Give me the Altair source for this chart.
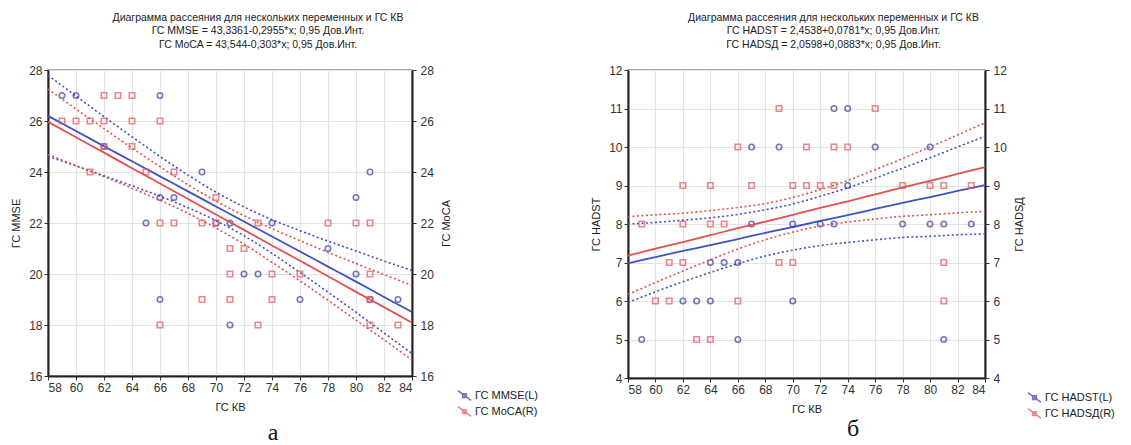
import altair as alt
import pandas as pd

# ---------------- panel а ----------------
mmse_x = [59, 60, 66, 62, 69, 81, 66, 67, 80, 65, 70, 71, 74, 78, 72, 73, 80, 66, 76, 81, 83, 71]
mmse_y = [27, 27, 27, 25, 24, 24, 23, 23, 23, 22, 22, 22, 22, 21, 20, 20, 20, 19, 19, 19, 19, 18]
moca_x = [62, 63, 64, 59, 60, 61, 62, 64, 66, 62, 64, 61, 65, 67, 70, 66, 67, 69, 70, 73, 78, 80, 81,
          71, 72, 71, 74, 76, 81, 69, 71, 74, 81, 66, 73, 81, 83]
moca_y = [27, 27, 27, 26, 26, 26, 26, 26, 26, 25, 25, 24, 24, 24, 23, 22, 22, 22, 22, 22, 22, 22, 22,
          21, 21, 20, 20, 20, 20, 19, 19, 19, 19, 18, 18, 18, 18]

band_x = [58, 60, 62, 64, 66, 68, 70, 72, 74, 76, 78, 80, 82, 84]
mmse_fit = [26.20, 25.61, 25.01, 24.42, 23.83, 23.24, 22.65, 22.06, 21.47, 20.88, 20.29, 19.70, 19.10, 18.51]
mmse_hi = [27.79, 26.98, 26.17, 25.38, 24.61, 23.88, 23.21, 22.63, 22.13, 21.70, 21.29, 20.90, 20.51, 20.14]
mmse_lo = [24.61, 24.24, 23.85, 23.46, 23.05, 22.60, 22.09, 21.50, 20.81, 20.06, 19.29, 18.50, 17.69, 16.88]
moca_fit = [25.97, 25.36, 24.76, 24.15, 23.55, 22.94, 22.33, 21.73, 21.12, 20.52, 19.91, 19.30, 18.70, 18.09]
moca_hi = [27.25, 26.47, 25.70, 24.94, 24.21, 23.50, 22.86, 22.29, 21.78, 21.31, 20.85, 20.41, 19.98, 19.55]
moca_lo = [24.69, 24.25, 23.82, 23.36, 22.89, 22.38, 21.80, 21.17, 20.46, 19.73, 18.97, 18.19, 17.42, 16.63]

# ---------------- panel б ----------------
hadst_x = [73, 74, 67, 69, 76, 80, 74, 67, 70, 72, 73, 78, 80, 81, 83, 64, 65, 66, 62, 63, 64, 70, 59, 66, 81]
hadst_y = [11, 11, 10, 10, 10, 10, 9, 8, 8, 8, 8, 8, 8, 8, 8, 7, 7, 7, 6, 6, 6, 6, 5, 5, 5]
hadsd_x = [69, 76, 66, 71, 73, 74, 62, 64, 67, 70, 71, 72, 73, 78, 80, 81, 83, 59, 62, 64, 65,
           61, 62, 69, 70, 81, 60, 61, 66, 81, 63, 64]
hadsd_y = [11, 11, 10, 10, 10, 10, 9, 9, 9, 9, 9, 9, 9, 9, 9, 9, 9, 8, 8, 8, 8,
           7, 7, 7, 7, 7, 6, 6, 6, 6, 5, 5]
hadst_fit = [6.98, 7.14, 7.30, 7.45, 7.61, 7.77, 7.92, 8.08, 8.23, 8.39, 8.55, 8.70, 8.86, 9.01]
hadst_hi = [8.00, 8.04, 8.10, 8.16, 8.25, 8.37, 8.52, 8.72, 8.94, 9.19, 9.45, 9.72, 10.00, 10.28]
hadst_lo = [5.96, 6.24, 6.50, 6.74, 6.97, 7.17, 7.32, 7.44, 7.52, 7.59, 7.65, 7.68, 7.72, 7.74]
hadsd_fit = [7.18, 7.36, 7.53, 7.71, 7.89, 8.06, 8.24, 8.42, 8.59, 8.77, 8.95, 9.12, 9.30, 9.48]
hadsd_hi = [8.19, 8.24, 8.28, 8.35, 8.43, 8.53, 8.69, 8.89, 9.13, 9.41, 9.70, 10.00, 10.31, 10.63]
hadsd_lo = [6.17, 6.48, 6.78, 7.07, 7.35, 7.59, 7.79, 7.95, 8.05, 8.13, 8.20, 8.24, 8.29, 8.33]

x_ticks = list(range(58, 85, 2))
ticks_a = list(range(16, 29, 2))
ticks_b = list(range(4, 13, 1))

BLUE_PT = "#3b3aa3"
RED_PT = "#e0585e"
BLUE_LN = "#3f51c4"
RED_LN = "#e4504f"
FONT = "Liberation Sans"

LEGEND_PATH = ("M-1,-0.75L1,0.75"
               "M-0.28,-0.28L0.28,-0.28L0.28,0.28L-0.28,0.28Z")


def band_frame(fit, hi, lo, name):
    rows = []
    for kind, vals in (("fit", fit), ("hi", hi), ("lo", lo)):
        for xv, yv in zip(band_x, vals):
            rows.append({"x": xv, "y": yv, "kind": kind, "s": name})
    return pd.DataFrame(rows)


def panel(name_l, name_r, xl, yl, xr, yr, bl, br, domain, yticks, ytitle_l, ytitle_r,
          title_lines, w, h, letter, letter_x, letter_y, leg_x, leg_y, title_dx):
    color = alt.Color("s:N", scale=alt.Scale(domain=[name_l, name_r], range=[BLUE_PT, RED_PT]),
                      legend=alt.Legend(orient="none", legendX=leg_x, legendY=leg_y, title=None,
                                        symbolType=LEGEND_PATH, symbolSize=170,
                                        symbolStrokeWidth=1.6, labelFont=FONT, labelFontSize=11,
                                        labelColor="#222", rowPadding=-2, labelOffset=3))
    xenc = alt.X("x:Q", scale=alt.Scale(domain=[58, 84], nice=False),
                 axis=alt.Axis(values=x_ticks, title="ГС КВ", grid=True, titlePadding=8))

    def yenc(orient, title):
        return alt.Y("y:Q", scale=alt.Scale(domain=domain, nice=False),
                     axis=alt.Axis(values=yticks, orient=orient, title=title,
                                   grid=(orient == "left"), titleAngle=270,
                                   titlePadding=(7 if orient == "left" else 18),
                                   labelPadding=(2 if orient == "left" else 4)))

    pts_l = pd.DataFrame({"x": xl, "y": yl, "s": name_l})
    pts_r = pd.DataFrame({"x": xr, "y": yr, "s": name_r})

    def side(pts, bands, orient, title, shape, lncolor):
        fit = alt.Chart(bands).transform_filter(alt.datum.kind == "fit").mark_line(
            strokeWidth=1.8, interpolate="monotone", color=lncolor
        ).encode(x=xenc, y=yenc(orient, title), detail="kind:N")
        band = alt.Chart(bands).transform_filter(alt.datum.kind != "fit").mark_line(
            strokeWidth=1.6, strokeDash=[2, 2.5], interpolate="monotone", color=lncolor
        ).encode(x=xenc, y=yenc(orient, title), detail="kind:N")
        p = alt.Chart(pts).mark_point(shape=shape, filled=False, size=30, strokeWidth=1.6).encode(
            x=xenc, y=yenc(orient, title), color=color)
        return alt.layer(fit, band, p)

    left = side(pts_l, bl, "left", ytitle_l, "circle", BLUE_LN)
    right = side(pts_r, br, "right", ytitle_r, "square", RED_LN)

    lbl = alt.Chart(pd.DataFrame({"t": [letter]})).mark_text(
        font="Liberation Serif", fontSize=24, color="#111", baseline="middle", align="center"
    ).encode(text="t:N", x=alt.value(letter_x), y=alt.value(letter_y))

    return alt.layer(left, right, lbl).resolve_scale(y="independent").properties(
        width=w, height=h,
        title=alt.TitleParams(text=title_lines, font=FONT, fontSize=10.5, fontWeight="normal",
                              color="#222", lineHeight=13.5, offset=14, anchor="middle",
                              frame="group", dx=title_dx))


panel_a = panel("ГС MMSE(L)", "ГС MoCA(R)", mmse_x, mmse_y, moca_x, moca_y,
                band_frame(mmse_fit, mmse_hi, mmse_lo, "ГС MMSE(L)"),
                band_frame(moca_fit, moca_hi, moca_lo, "ГС MoCA(R)"),
                [16, 28], ticks_a, "ГС MMSE", "ГС MoCA",
                ["Диаграмма рассеяния для нескольких переменных и ГС КВ",
                 "ГС MMSE = 43,3361-0,2955*x; 0,95 Дов.Инт.",
                 "ГС MoCA = 43,544-0,303*x; 0,95 Дов.Инт."],
                364, 306, "а", 225, 363, 409, 318, 28)

panel_b = panel("ГС HADST(L)", "ГС HADSД(R)", hadst_x, hadst_y, hadsd_x, hadsd_y,
                band_frame(hadst_fit, hadst_hi, hadst_lo, "ГС HADST(L)"),
                band_frame(hadsd_fit, hadsd_hi, hadsd_lo, "ГС HADSД(R)"),
                [4, 12], ticks_b, "ГС HADST", "ГС HADSД",
                ["Диаграмма рассеяния для нескольких переменных и ГС КВ",
                 "ГС HADST = 2,4538+0,0781*x; 0,95 Дов.Инт.",
                 "ГС HADSД = 2,0598+0,0883*x; 0,95 Дов.Инт."],
                357, 308, "б", 225, 359, 399, 320, 27)

chart = alt.hconcat(panel_a, panel_b, spacing=50).resolve_scale(color="independent").configure(
    background="#ffffff", padding={"left": 9, "top": 11, "right": 0, "bottom": 10}
).configure_view(
    stroke="#8c8c8c", strokeWidth=1.5
).configure_axis(
    domainColor="#222", domainWidth=2, gridColor="#e3e3e3", gridWidth=1.2,
    labelColor="#333", labelFont=FONT, labelFontSize=12, tickColor="#333", tickSize=4,
    titleFont=FONT, titleFontSize=11, titleFontWeight="normal", titleColor="#222"
)

chart.save("out.html", embed_options={"renderer": "svg", "actions": False})
